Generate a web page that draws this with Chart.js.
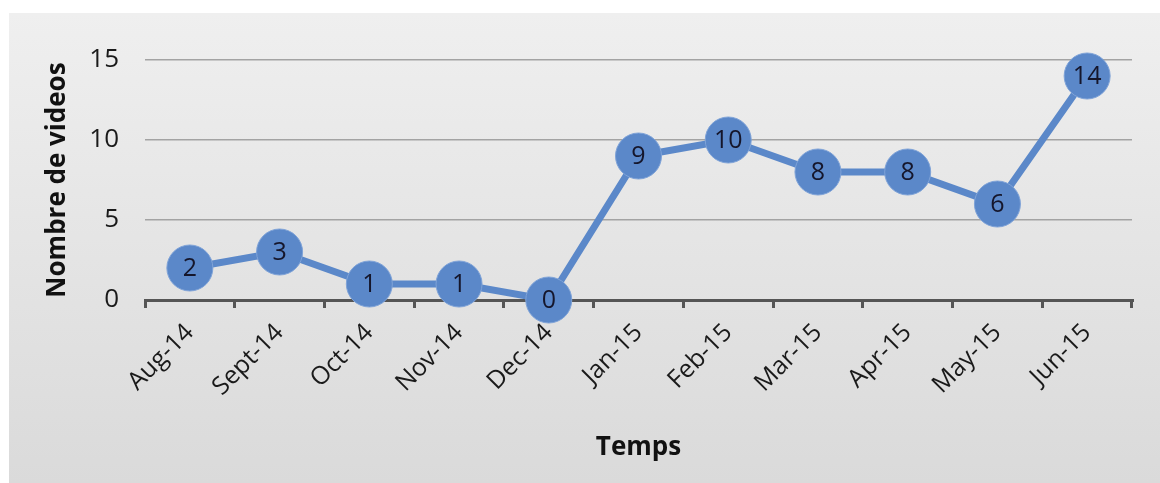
<!DOCTYPE html>
<html>
<head>
<meta charset="utf-8">
<script src="https://cdn.jsdelivr.net/npm/chart.js@4"></script>
<style>
  html, body { margin: 0; padding: 0; background: #ffffff; }
  #wrap { width: 1160px; height: 483px; }
</style>
</head>
<body>
<div id="wrap"><canvas id="line"></canvas></div>
<script>
const months = ['Aug-14', 'Sept-14', 'Oct-14', 'Nov-14', 'Dec-14', 'Jan-15',
                'Feb-15', 'Mar-15', 'Apr-15', 'May-15', 'Jun-15'];
const videos = [2, 3, 1, 1, 0, 9, 10, 8, 8, 6, 14];
const yTicks = [0, 5, 10, 15];

const font_main = "'Open Sans', 'DejaVu Sans', sans-serif";

// grey panel behind the chart
const panelBg = {
  id: 'panelBg',
  beforeDraw(chart) {
    const ctx = chart.ctx;
    const g = ctx.createLinearGradient(0, 13, 0, 483);
    g.addColorStop(0, '#efefef');
    g.addColorStop(1, '#dadada');
    ctx.save();
    ctx.fillStyle = g;
    ctx.fillRect(9, 13, chart.width - 9, chart.height - 13);
    ctx.restore();
  }
};

// value written inside each marker
const pointValues = {
  id: 'pointValues',
  afterDatasetsDraw(chart) {
    const ctx = chart.ctx;
    const meta = chart.getDatasetMeta(0);
    ctx.save();
    ctx.font = "25px " + font_main;
    ctx.fillStyle = '#15162b';
    ctx.textAlign = 'center';
    ctx.textBaseline = 'middle';
    meta.data.forEach((pt, i) => {
      ctx.fillText(String(videos[i]), pt.x, pt.y + 1);
    });
    ctx.restore();
  }
};

const config_line = {
  type: 'line',
  data: {
    labels: months,
    datasets: [{
      data: videos,
      borderColor: '#5b88c9',
      backgroundColor: '#5b88c9',
      borderWidth: 7,
      pointRadius: 23,
      pointHoverRadius: 23,
      pointBackgroundColor: '#5b88c9',
      pointBorderColor: '#7fa3d8',
      pointBorderWidth: 1,
      tension: 0,
      clip: false
    }]
  },
  options: {
    responsive: true,
    maintainAspectRatio: false,
    animation: false,
    events: [],
    layout: { padding: { left: 0, top: 60, right: 28, bottom: 0 } },
    plugins: {
      legend: { display: false },
      tooltip: { enabled: false }
    },
    scales: {
      x: {
        type: 'category',
        offset: true,
        afterFit(scale) { scale.height = 183; },
        grid: {
          display: true,
          drawOnChartArea: false,
          drawTicks: true,
          offset: true,
          tickLength: 8,
          color: '#555555',
          lineWidth: 3
        },
        border: { display: true, color: '#555555', width: 3 },
        ticks: {
          color: '#1a1a1a',
          font: { family: font_main, size: 25 },
          maxRotation: 45,
          minRotation: 45,
          padding: 10,
          autoSkip: false
        },
        title: {
          display: true,
          text: 'Temps',
          color: '#111111',
          font: { family: font_main, size: 26, weight: 'bold' },
          padding: { top: 4, bottom: 20 }
        }
      },
      y: {
        min: 0,
        max: 15,
        afterFit(scale) { scale.width = 145; },
        afterBuildTicks(scale) { scale.ticks = yTicks.map(v => ({ value: v })); },
        grid: {
          color: '#a3a3a3',
          lineWidth: 1.5,
          drawTicks: false
        },
        border: { display: false },
        ticks: {
          color: '#1a1a1a',
          font: { family: font_main, size: 26 },
          padding: 26
        },
        title: {
          display: true,
          text: 'Nombre de videos',
          color: '#111111',
          font: { family: font_main, size: 26, weight: 'bold' },
          padding: { top: 42, bottom: 0 }
        }
      }
    }
  },
  plugins: [panelBg, pointValues]
};

const myLine = new Chart(document.getElementById('line'), config_line);
</script>
</body>
</html>
